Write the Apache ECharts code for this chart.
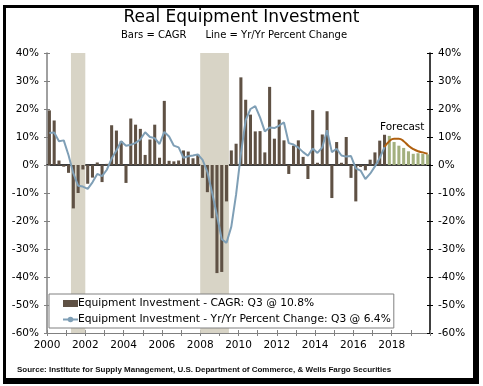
<!DOCTYPE html>
<html><head><meta charset="utf-8">
<script src="https://cdn.jsdelivr.net/npm/echarts@6/dist/echarts.min.js"></script>
<style>html,body{margin:0;padding:0;background:#fff}#c{width:483px;height:386px}</style>
</head><body><div id="c"></div>
<script>
// ---- data ----
const firstYear = 2000;
const nQuarters = 80;
const categories = [];
for (let i = 0; i < nQuarters; i++) categories.push((firstYear + Math.floor(i / 4)) + 'Q' + (i % 4 + 1));

const cagrActual = [19.5,15.9,1.6,-0.6,-2.8,-15.5,-10,-1.6,-6.7,-4.5,0.9,-6.1,0.4,14.2,12.3,8.5,-6.4,16.6,14.4,12.9,
  3.6,9.1,14.4,2.6,22.9,1.5,1.3,1.6,5.2,4.8,2.4,3.8,-4.6,-9.7,-19,-38.6,-38.2,-13,5.2,7.6,
  31.3,23.3,18,12,12.1,4.5,27.9,9.4,16.2,8.8,-3.2,6.9,8.8,2.9,-5,19.6,0.8,10.9,19.2,-11.8,
  8.2,0.8,10,-4.6,-13,-0.7,-1.9,1.9,4.5,8.7,10.8];
const cagrForecast = [10.4,8.2,6.9,6.1,4.9,4.0,4.2,4.0,3.8];
const yoyActual = [11.4,11.6,8.5,8.8,3.5,-3.0,-7.4,-7.7,-8.5,-6.2,-3.2,-4.0,-1.7,2.3,5.2,8.5,6.9,7.2,7.9,9.1,
  11.7,10.0,9.6,7.5,11.8,10.2,6.9,6.3,2.6,3.1,3.4,3.8,1.8,-2.5,-10,-18,-26.5,-27.8,-22,-10.5,
  4,16,20,21,17,12,13.4,13.2,14.1,15.2,7.8,7.3,6.2,4.6,3.3,5.9,4.3,6.3,12.4,4.6,
  5.8,3.4,3.0,3.2,-1.2,-2.0,-5.0,-3.1,-0.5,2.5,6.4];
const yoyForecast = [8.5,9.4,9.4,8.5,6.9,5.7,4.9,4.5,4.0];
const recessions = [[2001.25, 2002.0], [2008.0, 2009.5]];
const yTicks = {min: -60, max: 40, interval: 10};
const xYears = {min: 2000, max: 2020, interval: 1, labelEvery: 2};
const title = 'Real Equipment Investment';
const subtitle = 'Bars = CAGR      Line = Yr/Yr Percent Change';
const legendBar = 'Equipment Investment - CAGR: Q3 @ 10.8%';
const legendLine = 'Equipment Investment - Yr/Yr Percent Change: Q3 @ 6.4%';
const source = 'Source: Institute for Supply Management, U.S. Department of Commerce, & Wells Fargo Securities';

// ---- build series data ----
const nA = cagrActual.length;
const barA = categories.map((c, i) => i < nA ? cagrActual[i] : null);
const barF = categories.map((c, i) => i >= nA ? cagrForecast[i - nA] : null);
const lineA = categories.map((c, i) => i < yoyActual.length ? yoyActual[i] : null);
const lineF = categories.map((c, i) => i === yoyActual.length - 1 ? yoyActual[i] : (i >= yoyActual.length ? yoyForecast[i - yoyActual.length] : null));

const FONT = 'DejaVu Sans';
const chart = echarts.init(document.getElementById('c'), null, {renderer: 'canvas'});
const grid = {left: 47, right: 53, top: 53, bottom: 53};
const yBase = {type: 'value', min: yTicks.min, max: yTicks.max, interval: yTicks.interval, splitLine: {show: false}};
chart.setOption({
  animation: false,
  backgroundColor: '#fff',
  graphic: [
    {type: 'rect', shape: {x: 3, y: 5, width: 476, height: 379}, style: {fill: '#000'}, z: -10},
    {type: 'rect', shape: {x: 6, y: 8, width: 467, height: 370}, style: {fill: '#fff'}, z: -9},
    {type: 'text', left: 'center', top: 9, style: {text: title, font: '17px ' + FONT, fill: '#000'}},
    {type: 'text', left: 121, top: 30, style: {text: subtitle, font: '10px ' + FONT, fill: '#000'}},
    {type: 'text', x: 380, y: 122, style: {text: 'Forecast', font: '10.5px ' + FONT, fill: '#000'}},
    {type: 'text', left: 17, top: 366, style: {text: source, font: 'bold 8px "Liberation Sans", Arial, sans-serif', fill: '#111'}}
  ],
  grid: grid,
  legend: {
    orient: 'vertical', left: 49, top: 294, itemGap: 5, itemWidth: 15, itemHeight: 7,
    padding: [4, 3, 3, 13], borderColor: '#808080', borderWidth: 1, backgroundColor: '#fff',
    textStyle: {fontFamily: FONT, fontSize: 10.7, color: '#000', padding: [0, 0, 0, -5]},
    data: [{name: legendBar, icon: 'rect'}, {name: legendLine}]
  },
  xAxis: [
    {type: 'category', data: categories, boundaryGap: true,
     axisLine: {show: true, onZero: true, lineStyle: {color: '#000', width: 1.5}},
     axisTick: {show: false}, axisLabel: {show: false}, splitLine: {show: false}},
    {type: 'value', min: xYears.min, max: xYears.max, interval: xYears.interval, position: 'bottom',
     axisLine: {show: true, onZero: false, lineStyle: {color: '#808080'}},
     axisTick: {show: true, length: 3, lineStyle: {color: '#808080'}},
     axisLabel: {show: true, margin: 7, fontFamily: FONT, fontSize: 10.5, color: '#000',
       formatter: v => (v % xYears.labelEvery === 0 && v < xYears.max) ? String(v) : ''},
     splitLine: {show: false}},
    {type: 'value', min: xYears.min, max: xYears.max, interval: xYears.interval, position: 'bottom',
     axisLine: {show: false, onZero: false}, axisTick: {show: true, inside: true, length: 3, lineStyle: {color: '#808080'}},
     axisLabel: {show: false}, splitLine: {show: false}}
  ],
  yAxis: [
    Object.assign({}, yBase, {position: 'left',
      axisLine: {show: true, lineStyle: {color: '#808080', width: 1.5}},
      axisTick: {show: true, length: 3, lineStyle: {color: '#808080'}},
      axisLabel: {margin: 8, fontFamily: FONT, fontSize: 10.5, color: '#000', formatter: '{value}%'}}),
    Object.assign({}, yBase, {position: 'right',
      axisLine: {show: true, lineStyle: {color: '#000', width: 1.5}},
      axisTick: {show: true, length: 3, lineStyle: {color: '#000'}},
      axisLabel: {margin: 8, fontFamily: FONT, fontSize: 10.5, color: '#000', formatter: '{value}%'}}),
    Object.assign({}, yBase, {position: 'left', axisLine: {show: false},
      axisTick: {show: true, inside: true, length: 3, lineStyle: {color: '#808080'}}, axisLabel: {show: false}}),
    Object.assign({}, yBase, {position: 'right', axisLine: {show: false},
      axisTick: {show: true, inside: true, length: 3, lineStyle: {color: '#000'}}, axisLabel: {show: false}})
  ],
  series: [
    {type: 'line', xAxisIndex: 1, yAxisIndex: 0, data: [], silent: true, z: 0,
     markArea: {silent: true, itemStyle: {color: '#d8d4c6'},
       data: recessions.map(r => [{xAxis: r[0]}, {xAxis: r[1]}])}},
    {name: legendBar, type: 'bar', xAxisIndex: 0, yAxisIndex: 0, data: barA, stack: 'c',
     barCategoryGap: '36%', itemStyle: {color: '#5f5144'}, z: 2},
    {name: 'forecastBars', type: 'bar', xAxisIndex: 0, yAxisIndex: 0, data: barF, stack: 'c',
     itemStyle: {color: '#a3b07e'}, z: 2},
    {name: legendLine, type: 'line', xAxisIndex: 0, yAxisIndex: 0, data: lineA, symbol: 'none',
     lineStyle: {color: '#7f9fb6', width: 2}, itemStyle: {color: '#7f9fb6'}, z: 3},
    {name: 'forecastLine', type: 'line', xAxisIndex: 0, yAxisIndex: 0, data: lineF, symbol: 'none', smooth: true,
     lineStyle: {color: '#b0600f', width: 2}, z: 3}
  ]
});
</script></body></html>
